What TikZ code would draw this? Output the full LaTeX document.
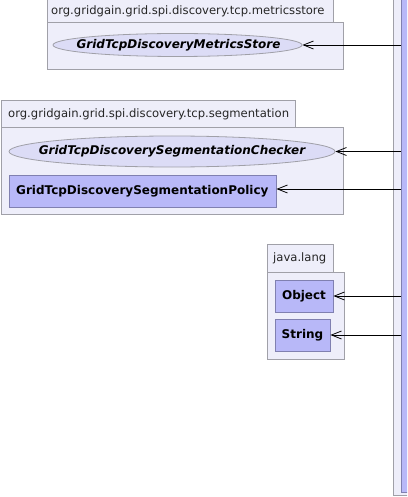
\documentclass[tikz,border=0pt]{standalone}
\usepackage{fontspec}
\setmainfont{DejaVu Sans}
\usetikzlibrary{arrows.meta,shapes.geometric}
\definecolor{pkgfill}{HTML}{EEEEFA}
\definecolor{pkgline}{HTML}{A0A0A8}
\definecolor{clsfill}{HTML}{B8B8F8}
\definecolor{clsline}{HTML}{8080B0}
\definecolor{iffill}{HTML}{DCDCF6}
\tikzset{
  pkgbox/.style={draw=pkgline, fill=pkgfill, line width=0.8pt, inner sep=0pt},
  pkglabel/.style={font=\fontsize{11.6}{13}\selectfont, text=black!85, anchor=west, inner sep=0pt},
  clsbox/.style={draw=clsline, fill=clsfill, line width=0.8pt, inner sep=0pt, font=\fontsize{12}{14}\selectfont\bfseries},
  clstext/.style={font=\fontsize{12}{14}\selectfont\bfseries, anchor=west, inner sep=0pt},
  ifbox/.style={ellipse, draw=pkgline, fill=iffill, line width=0.8pt, inner sep=0pt},
  iftext/.style={font=\fontsize{12}{14}\selectfont\bfseries\itshape, inner sep=0pt},
  dep/.style={-{Straight Barb[length=10pt,width=8pt]}, line width=0.8pt}
}
\begin{document}
\begin{tikzpicture}[x=1pt,y=-1pt]
\useasboundingbox (0,0) rectangle (407,497);
\clip (0,0) rectangle (407,497);
% right package
\node[pkgbox, minimum width=40, minimum height=510] (rpkg) at (413,240) {};
\node[clsbox, minimum width=30, minimum height=507] (rcls) at (416,238.5) {};
% metricsstore
\node[pkgbox, minimum width=286, minimum height=24] (mstab) at (190,10) {};
\node[pkglabel] (mslab) at (51,11) {org.gridgain.grid.spi.discovery.tcp.metricsstore};
\node[pkgbox, minimum width=296, minimum height=47] (msbody) at (195,45.5) {};
\node[ifbox, minimum width=249, minimum height=23] (ms) at (177.5,45) {};
\node[iftext] (mstext) at (178.5,45) {GridTcpDiscoveryMetricsStore};
% segmentation
\node[pkgbox, minimum width=294, minimum height=27] (segtab) at (148,113.5) {};
\node[pkglabel] (seglab) at (8,114) {org.gridgain.grid.spi.discovery.tcp.segmentation};
\node[pkgbox, minimum width=342, minimum height=87] (segbody) at (172,170.5) {};
\node[ifbox, minimum width=326, minimum height=31] (chk) at (172,151.5) {};
\node[iftext] (chktext) at (172,151.5) {GridTcpDiscoverySegmentationChecker};
\node[clsbox, minimum width=267, minimum height=32] (pol) at (142.5,191) {};
\node[clstext] (poltext) at (16,191) {GridTcpDiscoverySegmentationPolicy};
% java.lang
\node[pkgbox, minimum width=66, minimum height=28] (jltab) at (300,258) {};
\node[pkglabel] (jllab) at (273,258.5) {java.lang};
\node[pkgbox, minimum width=77, minimum height=87] (jlbody) at (305.5,315.5) {};
\node[clsbox, minimum width=58, minimum height=32] (obj) at (304,296) {Object};
\node[clsbox, minimum width=55, minimum height=32] (str) at (302.5,335) {String};
% dependencies
\coordinate (s1) at (401,45);
\coordinate (s2) at (401,151.5);
\coordinate (s3) at (401,189);
\coordinate (s4) at (401,296);
\coordinate (s5) at (401,335);
\draw[dep] (s1) -- (ms.east);
\draw[dep] (s2) -- (chk.east);
\draw[dep] (s3) -- (s3 -| pol.east);
\draw[dep] (s4) -- (obj.east);
\draw[dep] (s5) -- (str.east);
\end{tikzpicture}
\end{document}
